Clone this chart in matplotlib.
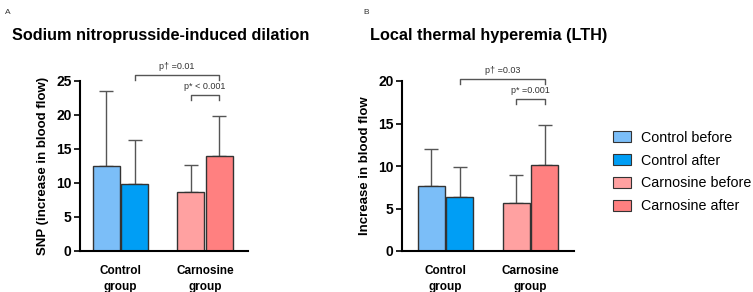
import numpy as np
from matplotlib import pyplot as plt
from matplotlib.patches import Patch

plt.rcParams['font.family'] = ['Liberation Sans', 'DejaVu Sans']

groups = ["Control\ngroup", "Carnosine\ngroup"]
series = ["Control before", "Control after", "Carnosine before", "Carnosine after"]
colors = ["#7bbef8", "#009ef5", "#ffa1a1", "#ff8080"]

# mean and upper SD, in order of series
snp_mean = [12.5, 9.9, 8.7, 13.9]
snp_sd = [11.0, 6.4, 3.9, 5.9]
lth_mean = [7.6, 6.3, 5.7, 10.1]
lth_sd = [4.4, 3.6, 3.3, 4.7]

snp_ticks = [0, 5, 10, 15, 20, 25]
lth_ticks = [0, 5, 10, 15, 20]

fig = plt.figure(figsize=(7.53, 2.92), dpi=100)


def panel(rect, means, sds, ymax, ticks, ylabel, title, title_x, letter, letter_x,
          centers, xmax, brackets):
    ax = fig.add_axes(rect)
    off = 0.53
    xs = [centers[0] - off, centers[0] + off, centers[1] - off, centers[1] + off]
    ax.bar(xs, means, width=1.0, color=colors, edgecolor="#333333", linewidth=1.0, zorder=2)
    ax.errorbar(xs, means, yerr=[np.zeros(4), sds], fmt="none", ecolor="#555555",
                elinewidth=1.0, capsize=5, capthick=1.0, zorder=1)
    ax.set_xlim(0, xmax)
    ax.set_ylim(0, ymax)
    ax.set_yticks(ticks)
    ax.set_xticks(centers)
    ax.set_xticklabels(groups, fontsize=8.5, fontweight="bold", linespacing=1.45)
    ax.tick_params(axis="x", length=0, pad=10)
    ax.tick_params(axis="y", length=4, width=1.2, labelsize=10, pad=2)
    for t in ax.get_yticklabels():
        t.set_fontweight("bold")
    for s in ["top", "right"]:
        ax.spines[s].set_visible(False)
    ax.spines["left"].set_linewidth(1.5)
    ax.spines["bottom"].set_linewidth(1.5)
    ax.set_ylabel(ylabel, fontsize=9.5, fontweight="bold", labelpad=5)
    fig.text(title_x, 0.88, title, fontsize=11.7, fontweight="bold", ha="left", va="center")
    fig.text(letter_x, 0.958, letter, fontsize=6, ha="left", va="center", color="#333333")
    for (i, j, y, label) in brackets:
        x0, x1 = xs[i], xs[j]
        tick = ymax * 0.03
        ax.plot([x0, x0, x1, x1], [y - tick, y, y, y - tick], color="#555555",
                linewidth=1.0, clip_on=False)
        ax.text((x0 + x1) / 2, y + ymax * 0.025, label, fontsize=6.5, ha="center",
                va="bottom", color="#333333", clip_on=False)
    return ax


panel([80 / 753, 41 / 292, 168 / 753, 170 / 292], snp_mean, snp_sd, 25, snp_ticks,
      "SNP (increase in blood flow)", "Sodium nitroprusside-induced dilation", 12 / 753,
      "A", 5 / 753, [1.5, 4.63], 6.22,
      [(1, 3, 25.9, "p\u2020 =0.01"), (2, 3, 22.9, "p* < 0.001")])

panel([402 / 753, 41 / 292, 172 / 753, 170 / 292], lth_mean, lth_sd, 20, lth_ticks,
      "Increase in blood flow", "Local thermal hyperemia (LTH)", 370 / 753,
      "B", 363 / 753, [1.61, 4.76], 6.37,
      [(1, 3, 20.2, "p\u2020 =0.03"), (2, 3, 17.9, "p* =0.001")])

handles = [Patch(facecolor=c, edgecolor="#333333", linewidth=0.8) for c in colors]
fig.legend(handles, series, loc="center left", bbox_to_anchor=(600 / 753, 120 / 292),
           frameon=False, fontsize=10.3, handlelength=1.25, handleheight=0.75,
           labelspacing=0.62, handletextpad=0.7)

fig.savefig("out.png", dpi=100)
